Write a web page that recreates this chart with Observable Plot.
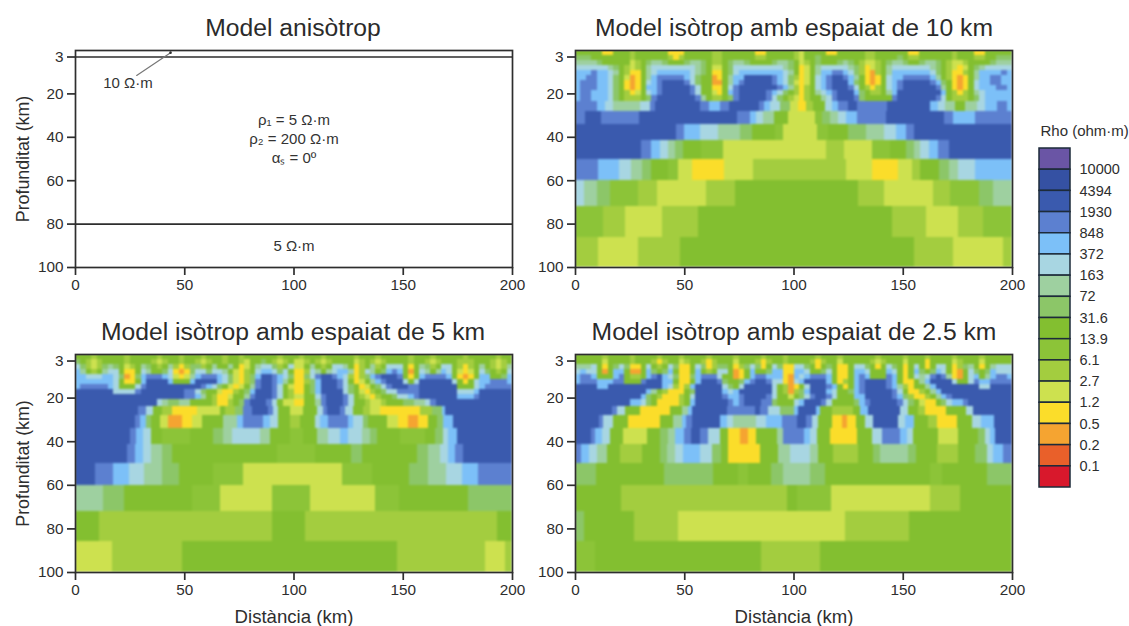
<!DOCTYPE html>
<html><head><meta charset="utf-8">
<script src="https://cdn.jsdelivr.net/npm/d3@7"></script>
<script src="https://cdn.jsdelivr.net/npm/@observablehq/plot@0.6"></script>
<style>
html,body{margin:0;padding:0;background:#fff;width:1129px;height:626px;overflow:hidden}
#root{position:relative;width:1129px;height:626px;font-family:"Liberation Sans",Arial,sans-serif;color:#2b2b2b}
.slot{position:absolute}
.ttl{position:absolute;width:500px;text-align:center;font-size:24.7px;line-height:28px;white-space:nowrap}
</style></head><body><div id="root"></div>
<script>
const classes = ["0","1","2","3","4","5","6","7","8","9","a","b","c","d","e","f"];
const classColors = ["#d8182c","#e9602a","#f5a431","#fbdd2a","#cde14f","#a3cd3f","#8cc438","#83bf30","#8cc668","#9ed0a0","#a8d6e2","#7cc0f8","#5c80d0","#3a5aae","#3551a3","#6a55a5"];
const legendOrder = ["f","e","d","c","b","a","9","8","7","6","5","4","3","2","1","0"];
const legendLabels = ["10000","4394","1930","848","372","163","72","31.6","13.9","6.1","2.7","1.2","0.5","0.2","0.1"];
const xTicks = [0,50,100,150,200];
const yTicks = [3,20,40,60,80,100];
const fineDepth = [0,2.3,4.6,6.9,9.2,11.5,13.8,16,18.3,20.6,23.7];
const coarseDepth = [23.7,28,34,41.5,50,60,72,86,100];

const fine10 = [
"7777733777 5777777333 7777755777 7773377777 5477773377 7775577777 7337777775 7773377777",
"8887777777 5777777535 7777755777 7775577777 5477877777 7775577778 7557777775 7775577888",
"9999877777 4578998777 8998755789 9877778998 7457877789 8754457899 8778998754 4577778999",
"aaaaaa9875 4579aaaaaa aa9874478a aaaaaaaa98 73479aaaaa 98534579aa aaaaa98754 34789aaaaa",
"bbbcbba975 3379abbbbb ba9873378a bbbbbbbba9 73479bbccb a8532579bb bbbbba8753 3579bbbbcb",
"bbccbba874 2379bccccc ba8772379b bdddddcba8 5347abcddc b973237abb cccccb9753 2379bbccbb",
"bcccbba873 237abcdddd ca8772279b cdddddcba8 4347abcddd b873237abc dddddcb873 237abbccbb",
"bcccbba873 237bbcdddd dca77337ac dddddddcb9 5357abcddd ca75357abc ddddddc973 237abbbccb",
"bccbbba875 347abcdddd dca77437bc dddddcba87 53579abcdd db875579bd dddddddb75 3579abbbbb",
"bccbbba875 5578cddddd ddc975578c dddddca875 435779acdd dc877777cd ddddddca75 5578abbbbb"];
const coarse10 = [
"9.9:c 13.7:b 17.5:a 29.7:9 34.3:a 36.6:c 57.2:d 61.5:c 66.4:b 70.6:c 84.4:d 86.5:c 89.2:b 93.8:a 98.4:8 102.2:4 105.7:3 109:5 114.4:7 117.5:a 120.5:b 125:c 128.9:d 142.6:c 162.5:d 166.3:b 169.3:a 173.9:9 178.5:7 183.8:9 187.6:a 193:b 197.6:c 200:b",
"4.6:c 12:d 29.4:c 74:d 80:c 83:b 86:a 91:9 97.6:7 110:4 113:6 116.7:8 120.5:9 124:a 129:b 142.5:c 169:d 173:c 183:b 200:c",
"46:d 50:c 57:b 65.6:a 75.5:9 81:8 91.5:7 95.3:6 110.6:4 115.6:6 125:7 133:8 141.6:9 147:a 151.5:b 155:c 200:d",
"30:d 35:c 39:b 42.7:a 45.8:9 49.6:8 57.7:7 67.6:6 115:4 123:5 136:4 144:6 151.5:7 155:8 158:9 162:a 166:b 171:c 200:d",
"10.4:c 20:b 25.6:a 30.5:9 35:8 42.4:7 47.3:6 53.4:4 68:3 81.6:4 124:5 135.8:4 148:3 154.4:4 158:5 166.6:7 171:8 175.4:9 183:a 200:b",
"4:a 10:9 16:8 29:6 37.5:5 60:4 73:5 129.7:7 141.6:5 164:4 171.4:5 185:6 191.5:8 200:9",
"13:6 23:5 40:4 56.5:5 145:7 160.5:5 175.5:4 186.5:5 200:6",
"10.4:5 29:4 48:5 155:7 173:5 196:4 200:5"];

const fine5 = [
"7775777775 7777757775 7775777577 5777777577 7577757777 7577757777 7577757777 7577777577",
"8754577775 7777545775 7754577577 5477875457 4457545777 7457545777 7577545777 5557775457",
"a854589874 5798757953 5885797797 3479aa857a 4479757aa9 7357957aaa 7379857aa7 5357975459",
"b97579aa73 37a9778a32 38aa8aa974 357abba8a7 335a979abb 935a978bcb 727a979ba7 4347a8757a",
"bbaaabba82 38bcccba43 49bcccba84 358bddcba8 338acddcba 5358bcdddc 737bccccb7 3237bb778b",
"bbbbbbba73 37bddddb77 7bddddba84 358cddcb97 3358bdddca 73479bcddd a7adddddda 737abbcccb",
"bcccccba77 7acddddddd dddcba8743 479cddca74 3378bdddca 873478acdd dccddddddd 777abccccc",
"dddddddaaa acdddddddd cca8774335 78bdddca75 3378bdddda 8743578aac cccddddddd aaabdddddd",
"dddddddddd dddddddddd ccb9753347 79cdddca75 4477acdddc a75435778a abcddddddd bbbcdddddd",
"dddddddddd ddddda9889 9777753357 8cdddca744 33779cdddc a775445777 8899acdddd dddddddddd"];
const coarse5 = [
"29:d 32.5:c 35.8:a 39.7:7 44.2:5 55.7:3 66.4:4 68.6:7 73.2:5 77:8 80.9:c 88.5:d 90.8:c 93:a 98.4:7 104.5:4 110.6:7 113.6:a 115.2:c 121.3:d 123.6:c 127.4:a 131.9:7 135:5 139.6:4 157.9:3 163.2:5 167.8:8 169.3:b 200:d",
"27.5:d 29.7:c 32.5:b 35:8 38.9:7 42.7:4 48.8:2 53.4:3 58:4 67.9:7 74:9 77:b 86.2:c 89.2:b 93:a 98.4:7 103:5 109.8:7 112:a 115.9:b 125.1:c 127.4:b 132:a 134.2:8 142.6:7 148:4 152.5:3 157:2 161.7:3 165.5:7 168.6:8 173.1:b 200:d",
"25.2:d 27.9:c 31.3:b 35:a 39.7:7 52.6:6 63.3:7 67.9:8 71.7:9 84.7:a 89.2:9 98.4:7 104.5:6 110.6:7 115.9:9 121.3:a 125.1:b 131.2:a 135:9 138:8 148.7:7 160.2:6 164.8:7 168.6:8 170.8:a 174.7:b 200:d",
"23.6:d 27.5:c 31.3:b 35:a 39.7:9 44.2:8 92.3:7 109.8:6 126.3:7 131.2:8 156.4:7 161.7:8 167:9 170.8:a 173.9:b 177.7:c 200:d",
"9.2:d 17.5:c 24.7:b 31.7:a 40:9 47.7:8 63.3:7 77:6 122:4 136:6 152.8:7 161.7:8 170:9 177:a 184.6:b 200:c",
"13:9 22.4:8 53.4:7 66.4:6 90:4 107.5:6 137.3:4 148.3:6 180:7 200:8",
"11:7 90:5 105.3:7 193:5 200:7",
"16.8:4 48.8:5 147.2:7 187.6:5 197:4 200:5"];

const fine25 = [
"7777757777 5777757775 7777577775 7777577757 7777577757 7777757777 5777577775 7777577777",
"7777747777 5777535774 5775357774 7775357757 7775357747 7777545777 4777377774 5777477777",
"999a7378a8 337a757a83 37a8358873 58a837a833 aa87378733 7aa8737a87 37a737aa73 5897379aaa",
"abaa727bb7 227b878b73 37b757aa72 37b778bb33 bba778a733 7bba777ba7 37b878ba73 27a878baaa",
"bccb777bc7 557bcdba83 38bccca772 37bccbbb32 babcccb733 7bcb777cb7 37a9acdc93 27ab79bccb",
"bcccbbbcc7 77cdddbb73 37bdddc877 8bcddcaa32 abddddb735 7bcddddcb7 3379bdddda 77acbbcccc",
"ddddbbdddd ddddddba53 5bddddda87 addddda752 37adddcb73 7bcddddcb9 53779bdddd ddddaadddd",
"dddddddddd dddb975333 78dddddbab dddddda752 58bdddba77 8bcdddddca 733579bddd dddddddddd",
"dddddddddd ddb8753335 7adddddcbb cddddca774 78acddca77 7bbdddddcb 8533579bcd dddddddddd",
"dddddddddd bba8733335 7bddddddcb cdddcc8777 abdddca777 78bcdddddc a8743378ab bcdddddddd"];
const coarse25 = [
"16.8:d 19:c 22.9:a 29.7:7 43.5:3 48.8:7 51.9:9 53.4:b 69.4:d 82.4:c 84.7:d 88.5:c 93.8:a 100:8 102.2:b 110.3:d 112:b 117.5:7 127.4:5 130.4:7 134.3:b 148.7:d 152.6:a 157:7 160:5 170:3 179:7 182.3:a 200:d",
"11:d 13:c 17.5:a 24.4:7 39:3 45:7 48.8:9 51:b 53.4:c 66.4:d 69.4:b 72.2:a 83:9 87.4:a 94.6:b 101.5:c 105.7:d 108.3:c 111.4:a 117.5:7 122:3 124.3:2 128.6:3 132.7:7 136.5:a 148:d 151:a 155:b 161.7:7 165.5:5 174.7:3 181.5:7 186:a 191.6:b 200:d",
"7.2:d 9.2:c 12.2:b 16:a 22:7 33:4 39:7 42.7:8 45.8:9 50:b 53:c 57.2:d 61:c 66.4:a 70:7 75.5:3 79.3:2 83:3 92.3:7 95.3:9 104.8:c 107.6:b 110.6:a 116.7:7 129:3 135.8:7 140.4:a 148.7:c 152:b 154.8:a 166.3:7 175.4:4 184.6:7 187.7:8 190:a 192.3:b 200:d",
"2.6:c 6.6:b 10:a 14.5:9 20.6:7 30.5:5 39:7 42:8 45.8:9 49.6:a 57.2:b 62.5:a 67:8 70:7 84.7:3 93:7 98.4:9 107.6:a 111.4:9 118.2:7 129.7:5 136.5:7 139.6:8 152.6:9 156:8 165.5:7 175.4:5 183:7 188.4:8 191.5:a 196:b 200:c",
"9.6:8 40.7:7 63:8 74.4:7 79:6 89.7:7 95.3:8 107.6:9 114.4:8 162.5:7 167.8:6 188.4:7 200:8",
"21:7 96.9:5 101.8:7 117:6 162.5:4 176:5 200:7",
"4:8 27:7 47.3:5 123.6:4 153:5 200:7",
"9:6 85:7 112:5 200:7"];

const layerDepths = [3,80];
const leader = [{x:28,y:11.5},{x:43.5,y:1}];
const notes = [
 {x:24,y:15,t:"10 Ω·m"},{x:100,y:32,t:"ρ₁ = 5 Ω·m"},{x:100,y:41,t:"ρ₂ = 200 Ω·m"},
 {x:100,y:49.5,t:"αₛ = 0º"},{x:100,y:90,t:"5 Ω·m"}];

function cellsFrom(fine, coarse){
  const out=[];
  fine.forEach((row,r)=>{
    const s=row.replace(/ /g,"");
    for(let i=0;i<s.length;i++) out.push({x1:i*2.5,x2:(i+1)*2.5,y1:fineDepth[r],y2:fineDepth[r+1],c:s[i]});
  });
  coarse.forEach((row,r)=>{
    let start=0;
    row.split(" ").forEach(p=>{
      const [e,c]=p.split(":");
      out.push({x1:start,x2:+e,y1:coarseDepth[r],y2:coarseDepth[r+1],c});
      start=+e;
    });
  });
  return out;
}
const ink="#2e2e2e";
const baseStyle={fontFamily:"'Liberation Sans',Arial,sans-serif",fontSize:"15.3px",color:ink,background:"transparent"};

function panel({cells,left,top,marginLeft,width,height,marginTop,marginBottom,yLabel,xLabel,extra=[]}){
  const marks=[];
  if(cells) marks.push(Plot.rect(cells,{x1:"x1",x2:"x2",y1:"y1",y2:"y2",fill:"c",shapeRendering:"crispEdges",clip:"frame",ariaLabel:"heat"}));
  marks.push(...extra);
  marks.push(Plot.frame({stroke:ink,strokeWidth:1.7}));
  marks.push(Plot.axisX({ticks:xTicks,tickSize:8,tickPadding:4,strokeWidth:1.7,stroke:ink,label:null,fill:ink,tickFormat:d=>String(d)}));
  marks.push(Plot.axisY({ticks:yTicks,tickSize:8,tickPadding:4,strokeWidth:1.7,stroke:ink,label:null,fill:ink,tickFormat:d=>String(d)}));
  if(yLabel) marks.push(Plot.text([yLabel],{text:d=>d,frameAnchor:"left",textAnchor:"middle",rotate:-90,dx:-52,fontSize:17.8,fill:ink}));
  if(xLabel) marks.push(Plot.text([xLabel],{text:d=>d,frameAnchor:"bottom",dy:50,fontSize:18.6,fill:ink}));
  const svg=Plot.plot({width,height,marginLeft,marginRight:width-marginLeft-437,marginTop,marginBottom,
    x:{domain:[0,200]},y:{domain:[0,100],reverse:true},
    color:{type:"ordinal",domain:classes,range:classColors},
    style:baseStyle,marks});
  svg.querySelectorAll('g[aria-label="rect"], g[aria-label="heat"]').forEach(g=>{g.style.filter="blur(0.8px)";});
  const d=document.createElement("div");d.className="slot";d.style.left=left+"px";d.style.top=top+"px";
  d.appendChild(svg);document.getElementById("root").appendChild(d);
}
function title(t,cx,cy){
  const d=document.createElement("div");d.className="ttl";d.textContent=t;
  d.style.left=(cx-250)+"px";d.style.top=(cy-14)+"px";document.getElementById("root").appendChild(d);
}
const topGeom={top:0,height:296,marginTop:50,marginBottom:29};
const botGeom={top:305,height:321,marginTop:49,marginBottom:54};
const leftGeom={left:0,marginLeft:75,width:531};
const rightGeom={left:531,marginLeft:44,width:500};

panel({...leftGeom,...topGeom,yLabel:"Profunditat (km)",extra:[
  Plot.ruleY(layerDepths,{stroke:ink,strokeWidth:1.7}),
  Plot.line(leader,{x:"x",y:"y",stroke:"#777",strokeWidth:1.2}),
  Plot.dot(leader.slice(1),{x:"x",y:"y",r:1.3,fill:ink}),
  Plot.text(notes,{x:"x",y:"y",text:"t",fontSize:15,fill:"#333"})
]});
panel({...rightGeom,...topGeom,cells:cellsFrom(fine10,coarse10)});
panel({...leftGeom,...botGeom,cells:cellsFrom(fine5,coarse5),yLabel:"Profunditat (km)",xLabel:"Distància (km)"});
panel({...rightGeom,...botGeom,cells:cellsFrom(fine25,coarse25),xLabel:"Distància (km)"});

title("Model anisòtrop",293,28);
title("Model isòtrop amb espaiat de 10 km",794,28);
title("Model isòtrop amb espaiat de 5 km",293,332);
title("Model isòtrop amb espaiat de 2.5 km",794,332);

const legendCells=legendOrder.map((c,i)=>({c,y1:i,y2:i+1}));
const legendTicks=legendLabels.map((t,i)=>({t,y:i+1}));
const legend=Plot.plot({width:98,height:380,marginLeft:8,marginRight:59,marginTop:28,marginBottom:13,
  x:{domain:[0,1],axis:null},y:{domain:[0,16],reverse:true,axis:null},
  color:{type:"ordinal",domain:classes,range:classColors},
  style:baseStyle,
  marks:[
    Plot.rect(legendCells,{x1:0,x2:1,y1:"y1",y2:"y2",fill:"c",stroke:"#1d2b3a",strokeWidth:1.5}),
    Plot.text(legendTicks,{x:1,y:"y",text:"t",textAnchor:"start",dx:9,fontSize:14.5,fill:ink}),
    Plot.text(["Rho (ohm·m)"],{text:d=>d,frameAnchor:"top-left",dx:1,dy:-23,textAnchor:"start",fontSize:15,fill:ink})
  ]});
const ld=document.createElement("div");ld.className="slot";ld.style.left="1031px";ld.style.top="120px";
ld.appendChild(legend);document.getElementById("root").appendChild(ld);
</script></body></html>
